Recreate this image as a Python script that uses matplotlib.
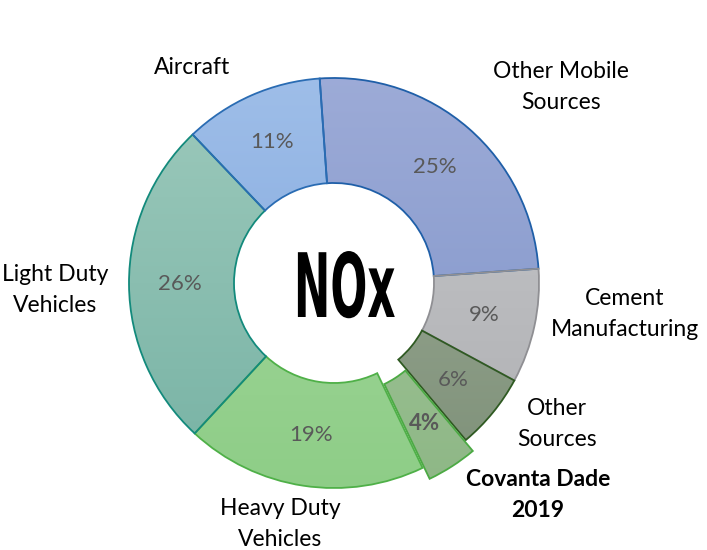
import matplotlib
matplotlib.use("Agg")
import matplotlib.pyplot as plt
import numpy as np
from matplotlib.colors import LinearSegmentedColormap
from matplotlib.patheffects import AbstractPathEffect
from matplotlib.transforms import Affine2D

# data
categories = ['Other Mobile\nSources', 'Cement\nManufacturing', 'Other\nSources',
              'Covanta Dade\n2019', 'Heavy Duty\nVehicles', 'Light Duty\nVehicles', 'Aircraft']
values = [25, 9, 6, 4, 19, 26, 11]
explode = [0, 0, 0, 13, 0, 0, 0]

# colours (top of gradient, bottom of gradient, edge)
top_colors = ['#9eacd8', '#c8c9cc', '#a3b09c', '#a9cda0', '#a9d9a2', '#9fcbbd', '#a0bfe9']
bot_colors = ['#7d92c7', '#adaeb1', '#7c8f77', '#8db685', '#8dcd86', '#75b1a3', '#7aa2db']
edge_colors = ['#1f5fa8', '#8f8f93', '#2f5a22', '#4caa44', '#4fb048', '#138a7c', '#2a6cb3']

W, H = 707, 550
cx, cy = 334, 550 - 283
R = 205


# squeeze text horizontally (the NOx title is a very narrow font)
class Squeeze(AbstractPathEffect):
    def __init__(self, sx):
        super().__init__()
        self.sx = sx

    def draw_path(self, renderer, gc, tpath, affine, rgbFace=None):
        xs = tpath.vertices[:, 0]
        xc = (xs.min() + xs.max()) / 2
        tr = Affine2D().translate(-xc, 0).scale(self.sx, 1).translate(xc, 0)
        renderer.draw_path(gc, tpath, tr + affine, rgbFace)


plt.rcParams['font.family'] = ['Lato', 'DejaVu Sans']

fig = plt.figure(figsize=(W / 100, H / 100), dpi=100)
ax = fig.add_axes([0, 0, 1, 1])

wedges, texts, autotexts = ax.pie(values, explode=explode, startangle=94, counterclock=False,
                                  center=(cx, cy), radius=R, autopct='%1.0f%%', pctdistance=0.75,
                                  wedgeprops=dict(width=105, linewidth=1.3),
                                  textprops=dict(fontsize=16, color='#595959'))

# gradient fill inside each wedge
for i, w in enumerate(wedges):
    w.set_facecolor('none')
    w.set_edgecolor(edge_colors[i])
    w.set_zorder(3)
    cmap = LinearSegmentedColormap.from_list('g%d' % i, [bot_colors[i], top_colors[i]])
    grad = np.linspace(0, 1, 256).reshape(-1, 1)
    im = ax.imshow(grad, cmap=cmap, origin='lower', aspect='auto',
                   extent=[cx - R - 20, cx + R + 20, cy - R - 20, cy + R + 20], zorder=2)
    im.set_clip_path(w)

for t in autotexts:
    t.set_zorder(5)
autotexts[3].set_fontweight('bold')

ax.text(345, H - 317, 'NOx', ha='center', va='baseline', fontsize=64, fontweight='bold',
        family='DejaVu Sans', color='black', zorder=6,
        path_effects=[Squeeze(0.49)])

# outer labels
label_pos = [(561, 87), (625, 314), (557, 424), (538, 495), (280, 524), (55, 290), (192, 68)]
for i, (lx, ly) in enumerate(label_pos):
    ax.text(lx, H - ly, categories[i], ha='center', va='center', fontsize=16.5,
            linespacing=1.55, color='black',
            fontweight='bold' if i == 3 else 'normal')

ax.set_xlim(0, W)
ax.set_ylim(0, H)
ax.set_aspect('equal')
ax.axis('off')

fig.savefig('out.png', dpi=100)
